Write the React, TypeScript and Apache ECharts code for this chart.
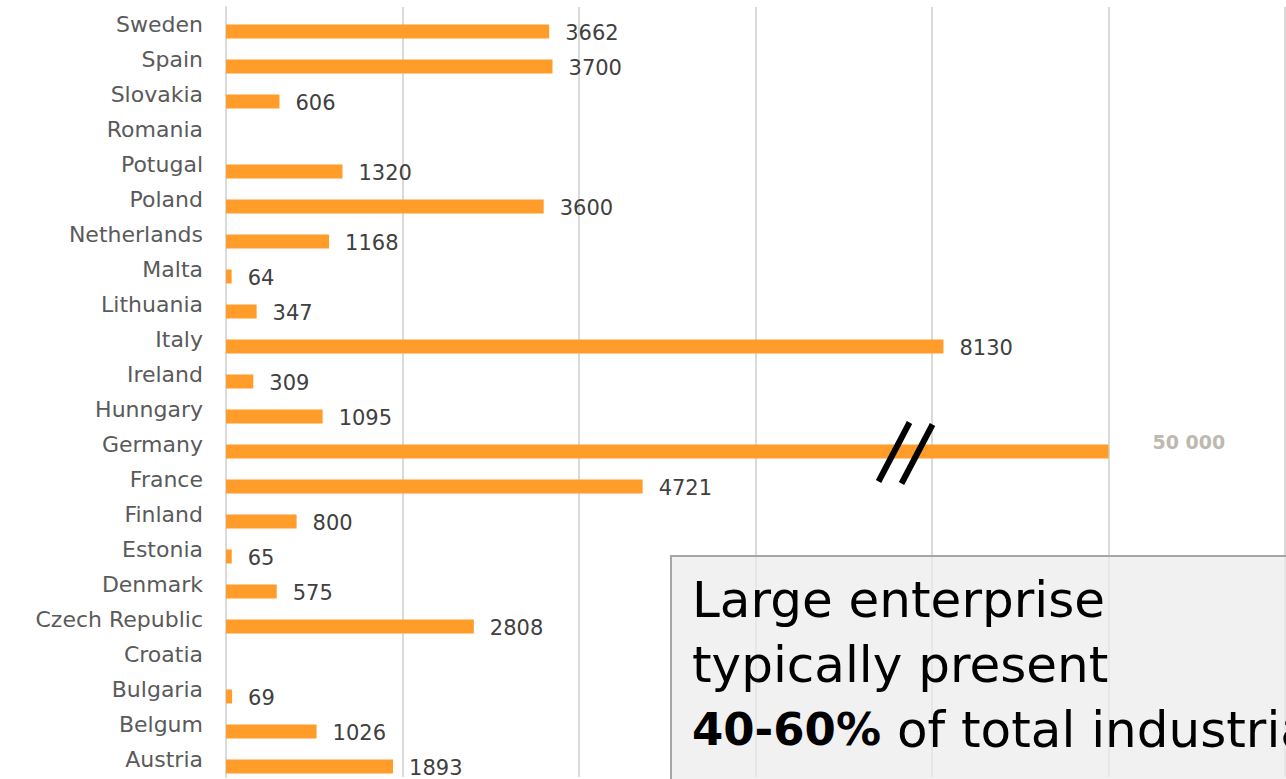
import React, { useEffect, useRef } from "react";
import * as echarts from "echarts";

// Categories, top to bottom as shown
const COUNTRIES = [
  "Sweden", "Spain", "Slovakia", "Romania", "Potugal", "Poland", "Netherlands",
  "Malta", "Lithuania", "Italy", "Ireland", "Hunngary", "Germany", "France",
  "Finland", "Estonia", "Denmark", "Czech Republic", "Croatia", "Bulgaria",
  "Belgum", "Austria",
];
// Values (null = no data)
const VALUES: (number | null)[] = [
  3662, 3700, 606, null, 1320, 3600, 1168,
  64, 347, 8130, 309, 1095, 50000, 4721,
  800, 65, 575, 2808, null, 69,
  1026, 1893,
];
const AXIS_MAX = 12000;
const AXIS_STEP = 2000;
const BREAK_CAP = 10000; // bars above this value are drawn broken at the cap
const BREAK_MARK_AT = 7700; // where the "//" break symbol sits on the broken bar

const NOTE_LINE_1 = "Large enterprise";
const NOTE_LINE_2 = "typically present";
const NOTE_BOLD = "40-60%";
const NOTE_REST = " of total industrial";

const FONT = "DejaVu Sans";
const BAR_W = 14;

function spaced(v: number): string {
  return String(v).replace(/\B(?=(\d{3})+(?!\d))/g, " ");
}

export default function App() {
  const ref = useRef<HTMLDivElement>(null);

  useEffect(() => {
    if (!ref.current) return;
    const chart = echarts.init(ref.current, null, { renderer: "svg" });

    const realData = VALUES.map((v) => {
      if (v == null) return "-";
      if (v > BREAK_CAP) {
        return {
          value: BREAK_CAP,
          label: {
            formatter: spaced(v),
            fontFamily: FONT,
            fontWeight: "bold",
            fontSize: 19,
            color: "#BDB9B1",
            distance: 44,
            offset: [0, -10],
          },
        };
      }
      return v;
    });

    const option: any = {
      animation: false,
      grid: { left: 226, right: 1, top: 7, bottom: 2, containLabel: false },
      xAxis: {
        type: "value",
        min: 0,
        max: AXIS_MAX,
        interval: AXIS_STEP,
        axisLabel: { show: false },
        axisLine: { show: false },
        axisTick: { show: false },
        splitLine: { show: true, lineStyle: { color: "#DADADA", width: 2 } },
      },
      yAxis: {
        type: "category",
        inverse: true,
        data: COUNTRIES,
        axisTick: { show: false },
        axisLine: { show: true, lineStyle: { color: "#DADADA", width: 2 } },
        axisLabel: {
          fontFamily: FONT,
          fontSize: 22,
          color: "#5A5A5A",
          margin: 23,
        },
      },
      series: [
        {
          name: "spacer",
          type: "bar",
          barWidth: BAR_W,
          barGap: "0%",
          silent: true,
          data: COUNTRIES.map(() => "-"),
        },
        {
          name: "value",
          type: "bar",
          barWidth: BAR_W,
          barGap: "0%",
          itemStyle: { color: "#FF9C2A" },
          label: {
            show: true,
            position: "right",
            distance: 16,
            offset: [0, 1],
            fontFamily: FONT,
            fontSize: 21,
            color: "#404040",
          },
          data: realData,
        },
      ],
    };
    chart.setOption(option);

    const gi = COUNTRIES.indexOf("Germany");
    const p = chart.convertToPixel({ gridIndex: 0 }, [BREAK_MARK_AT, gi]) as number[];
    const px = p[0];
    const py = p[1] + BAR_W / 2;

    chart.setOption({
      graphic: [
        {
          type: "line",
          shape: { x1: px - 27, y1: py + 30, x2: px + 4, y2: py - 29 },
          style: { stroke: "#000", lineWidth: 6 },
          z: 100,
        },
        {
          type: "line",
          shape: { x1: px - 4, y1: py + 32, x2: px + 27, y2: py - 27 },
          style: { stroke: "#000", lineWidth: 6 },
          z: 100,
        },
        {
          type: "rect",
          shape: { x: 671, y: 556, width: 700, height: 300 },
          style: { fill: "rgba(236,236,236,0.72)", stroke: "#A6A6A6", lineWidth: 2 },
          z: 100,
        },
        {
          type: "text",
          x: 692,
          y: 567,
          z: 101,
          style: {
            text: `${NOTE_LINE_1}\n${NOTE_LINE_2}\n{b|${NOTE_BOLD}}${NOTE_REST}`,
            fontFamily: FONT,
            fontSize: 50,
            lineHeight: 65,
            fill: "#000",
            rich: {
              b: { fontFamily: FONT, fontSize: 45, fontWeight: "bold", fill: "#000", lineHeight: 65 },
            },
          },
        },
      ],
    });

    return () => chart.dispose();
  }, []);

  return (
    <div
      ref={ref}
      style={{ position: "absolute", left: 0, top: 0, width: 1286, height: 779, background: "#fff" }}
    />
  );
}
